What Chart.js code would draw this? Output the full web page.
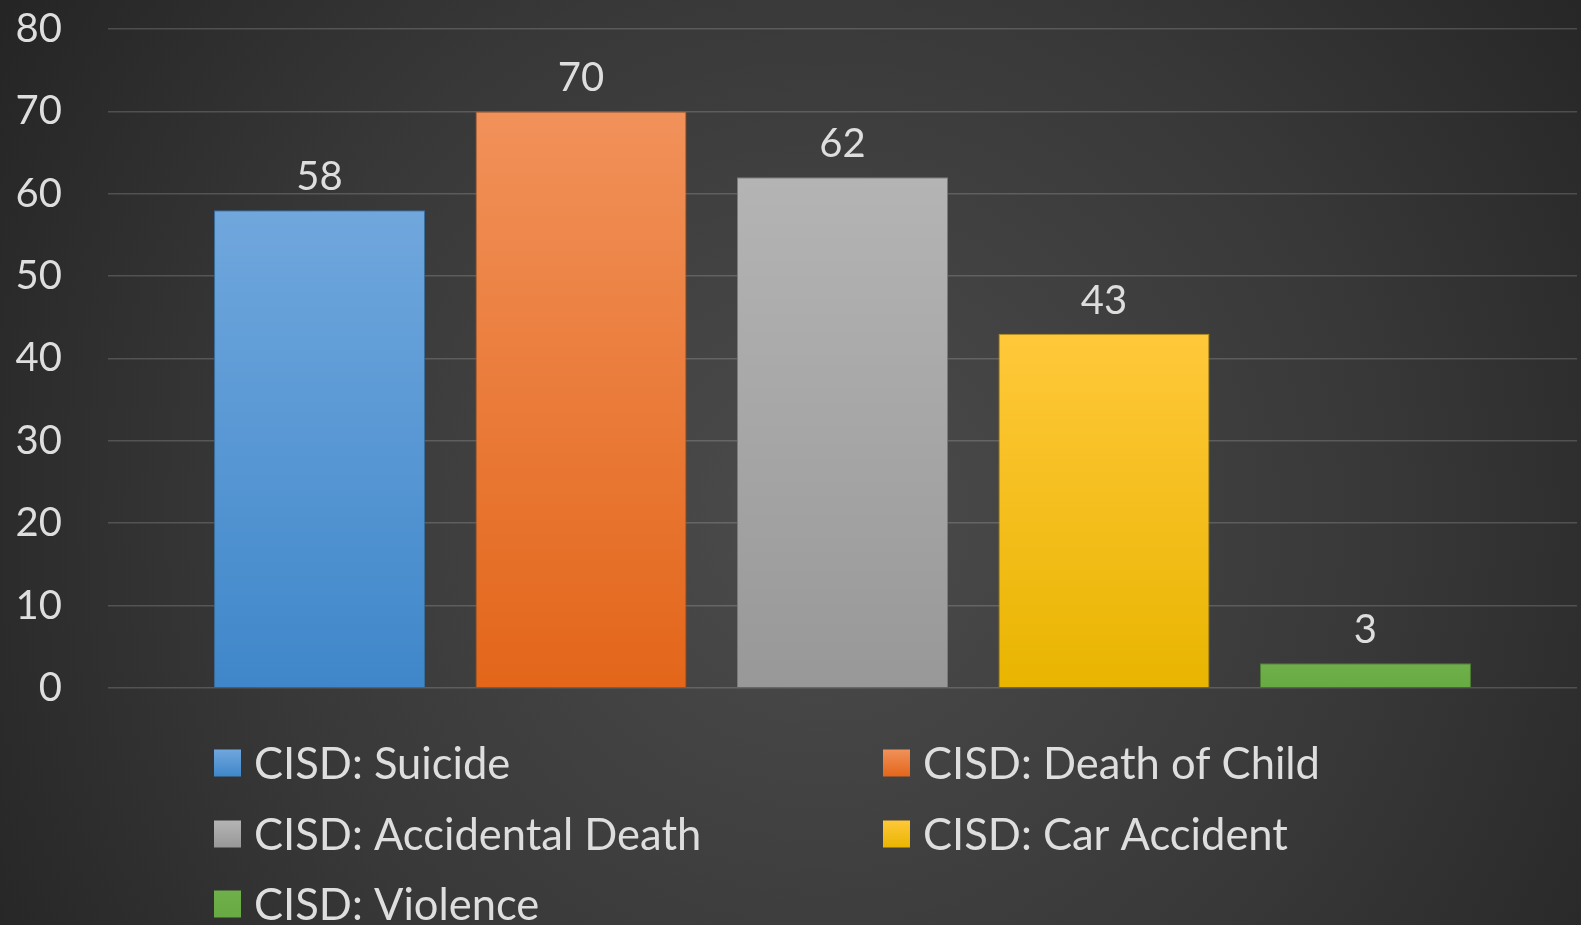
<!DOCTYPE html>
<html>
<head>
<meta charset="utf-8">
<script src="https://cdn.jsdelivr.net/npm/chart.js@4/dist/chart.umd.min.js"></script>
<style>
  html, body { margin: 0; padding: 0; background: #2b2b2b; }
  #wrap { position: relative; width: 1581px; height: 925px; }
</style>
</head>
<body>
<div id="wrap"><canvas id="c" width="1581" height="925"></canvas></div>
<script>
// Chart data
const categories = [''];
const seriesNames = ['CISD: Suicide', 'CISD: Death of Child', 'CISD: Accidental Death', 'CISD: Car Accident', 'CISD: Violence'];
const seriesValues = [58, 70, 62, 43, 3];
const yTicks = [0, 10, 20, 30, 40, 50, 60, 70, 80];

// Fill colours: top and bottom stops of each bar's vertical gradient
const topColors = ['#70a7dd', '#f1915a', '#b4b4b4', '#ffc83a', '#6fb04a'];
const bottomColors = ['#3f87ca', '#e3661a', '#989898', '#e9b500', '#67a943'];
const edgeColors = ['#3a6f9f', '#a9531b', '#7a7a7a', '#b08a10', '#4f8034'];

const FONT = 'Lato, "Open Sans", sans-serif';
const TEXT = '#dedede';

function barGradient(i) {
  return (ctx) => {
    const chart = ctx.chart;
    const y = chart.scales && chart.scales.y;
    if (!y || !chart.chartArea) return topColors[i];
    const top = y.getPixelForValue(seriesValues[i]);
    const base = y.getPixelForValue(0);
    const g = chart.ctx.createLinearGradient(0, top, 0, base);
    g.addColorStop(0, topColors[i]);
    g.addColorStop(1, bottomColors[i]);
    return g;
  };
}

// Dark radial backdrop behind everything
const backdrop = {
  id: 'backdrop',
  beforeDraw(chart) {
    const { ctx, width, height } = chart;
    const g = ctx.createRadialGradient(820, 520, 20, 820, 520, 1000);
    g.addColorStop(0, '#4b4b4b');
    g.addColorStop(0.55, '#383838');
    g.addColorStop(1, '#232323');
    ctx.save();
    ctx.fillStyle = g;
    ctx.fillRect(0, 0, width, height);
    ctx.restore();
  }
};

// Value labels above each bar
const valueLabels = {
  id: 'valueLabels',
  afterDatasetsDraw(chart) {
    const { ctx } = chart;
    ctx.save();
    ctx.font = '40px ' + FONT;
    ctx.fillStyle = TEXT;
    ctx.textAlign = 'center';
    ctx.textBaseline = 'alphabetic';
    chart.data.datasets.forEach((ds, i) => {
      const meta = chart.getDatasetMeta(i);
      meta.data.forEach((bar, j) => {
        ctx.fillText(String(ds.data[j]), bar.x, bar.y - 20);
      });
    });
    ctx.restore();
  }
};

// Two-column legend under the plot
const gridLegend = {
  id: 'gridLegend',
  afterDraw(chart) {
    const { ctx } = chart;
    const colX = [214, 883];
    const rowY = [763, 834, 904];
    const box = 27;
    ctx.save();
    ctx.font = '43.5px ' + FONT;
    ctx.textBaseline = 'middle';
    ctx.textAlign = 'left';
    chart.data.datasets.forEach((ds, i) => {
      const x = colX[i % 2];
      const y = rowY[Math.floor(i / 2)];
      const g = ctx.createLinearGradient(0, y - box / 2, 0, y + box / 2);
      g.addColorStop(0, topColors[i]);
      g.addColorStop(1, bottomColors[i]);
      ctx.fillStyle = g;
      ctx.fillRect(x, y - box / 2, box, box);
      ctx.fillStyle = TEXT;
      ctx.fillText(ds.label, x + 40, y + 2);
    });
    ctx.restore();
  }
};

const datasets = seriesNames.map((name, i) => ({
  label: name,
  data: [seriesValues[i]],
  backgroundColor: barGradient(i),
  borderColor: edgeColors[i],
  borderWidth: 1,
  categoryPercentage: 0.89,
  barPercentage: 0.807
}));

new Chart(document.getElementById('c'), {
  type: 'bar',
  data: { labels: categories, datasets },
  options: {
    responsive: false,
    animation: false,
    layout: { padding: { top: 29, right: 4, bottom: 237, left: 0 } },
    plugins: {
      legend: { display: false },
      tooltip: { enabled: false }
    },
    scales: {
      x: { display: false },
      y: {
        min: 0,
        max: 80,
        afterBuildTicks(scale) { scale.ticks = yTicks.map(v => ({ value: v })); },
        afterFit(scale) {
          scale.width = 108;
          scale.paddingTop = 0;
          scale.paddingBottom = 0;
        },
        ticks: {
          color: TEXT,
          font: { family: FONT, size: 40 },
          padding: 46
        },
        grid: { color: 'rgba(255,255,255,0.17)', lineWidth: 1.6, drawTicks: false },
        border: { display: false }
      }
    }
  },
  plugins: [backdrop, valueLabels, gridLegend]
});
</script>
</body>
</html>
